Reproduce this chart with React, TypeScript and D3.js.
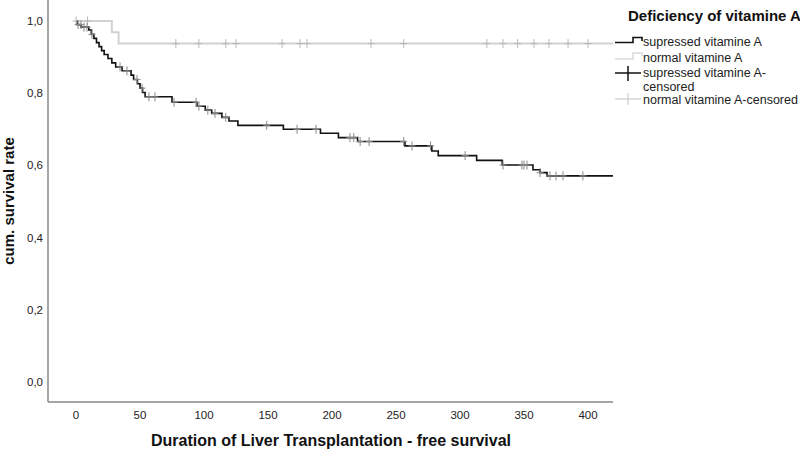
import React from "react";
import * as d3 from "d3";

const xTicks = [0, 50, 100, 150, 200, 250, 300, 350, 400];
const yTicks = [0, 0.2, 0.4, 0.6, 0.8, 1.0];

// suppressed vitamine A: step times and survival after each step
const suppTimes = [0, 1, 4, 10, 12, 14, 16, 18, 20, 22, 25, 28, 31, 36, 43, 45, 48, 50, 52, 54, 75, 94.5, 101, 106, 114, 119.5, 126.5, 162, 191, 205, 220, 257, 278, 283, 313, 333, 357, 362.5, 368];
const suppSurv = [1.0, 0.99, 0.983, 0.975, 0.963, 0.952, 0.94, 0.929, 0.918, 0.907, 0.896, 0.884, 0.873, 0.862, 0.85, 0.838, 0.826, 0.814, 0.802, 0.79, 0.775, 0.764, 0.753, 0.744, 0.733, 0.723, 0.711, 0.7, 0.689, 0.677, 0.666, 0.654, 0.64, 0.627, 0.614, 0.601, 0.588, 0.58, 0.571];
const suppCensored = [1.6, 3.9, 6.3, 8.6, 12.5, 34.4, 39.8, 47.7, 51.6, 57, 61.7, 76.6, 93.8, 96, 103, 108.6, 117, 149, 172.7, 187.5, 214, 217, 222, 229, 256, 262.5, 277, 304, 333.6, 348.4, 350, 352.3, 362.5, 370.3, 375, 380.5, 396];

// normal vitamine A
const normTimes = [0, 28, 33.3];
const normSurv = [1.0, 0.96875, 0.9375];
const normCensored = [0, 9, 78, 96, 117, 125, 161, 175, 180.5, 230.5, 256, 321, 333.6, 345, 357.8, 369.5, 384.4, 400];

const endTime = 419.5;

const W = 800, H = 452;
const FONT = "'Liberation Sans', Arial, sans-serif";

function survAt(times: number[], surv: number[], t: number) {
  let s = surv[0];
  for (let i = 0; i < times.length; i++) if (times[i] <= t) s = surv[i];
  return s;
}

export default function App() {
  const x = d3.scaleLinear().domain([0, 400]).range([76, 588]);
  const y = d3.scaleLinear().domain([0, 1]).range([382, 21]);
  const x0 = 48, x1 = 613, yAxisY = 402;

  const line = d3.line<[number, number]>().x(d => x(d[0])).y(d => y(d[1])).curve(d3.curveStepAfter);
  const suppPts: [number, number][] = suppTimes.map((t, i) => [t, suppSurv[i]] as [number, number]);
  suppPts.push([endTime, suppSurv[suppSurv.length - 1]]);
  const normPts: [number, number][] = normTimes.map((t, i) => [t, normSurv[i]] as [number, number]);
  normPts.push([endTime, normSurv[normSurv.length - 1]]);

  const cross = (cx: number, cy: number, color: string, key: string) => (
    <g key={key} stroke={color} strokeWidth={1}>
      <line x1={cx} x2={cx} y1={cy - 4.5} y2={cy + 4.5} />
      <line x1={cx - 3.5} x2={cx + 3.5} y1={cy} y2={cy} />
    </g>
  );

  const fmt = (v: number) => v.toFixed(1).replace(".", ",");

  return (
    <svg width={W} height={H} style={{ position: "absolute", left: 0, top: 0, background: "#fff" }} fontFamily={FONT}>
      {/* axes */}
      <line x1={x0} x2={x0} y1={0} y2={yAxisY} stroke="#888" strokeWidth={1.5} />
      <line x1={x0} x2={x1} y1={yAxisY} y2={yAxisY} stroke="#888" strokeWidth={1.5} />
      {yTicks.map(v => (
        <text key={"y" + v} x={43} y={y(v)} dy="0.35em" textAnchor="end" fontSize={11.5} fill="#222">{fmt(v)}</text>
      ))}
      {xTicks.map(v => (
        <text key={"x" + v} x={x(v)} y={415} dy="0.35em" textAnchor="middle" fontSize={11.5} fill="#222">{v}</text>
      ))}
      <text x={331} y={446} textAnchor="middle" fontSize={16} fontWeight="bold" fill="#111">Duration of Liver Transplantation - free survival</text>
      <text transform={`translate(14,${201}) rotate(-90)`} textAnchor="middle" fontSize={15} fontWeight="bold" fill="#111">cum. survival rate</text>

      {/* curves */}
      <path d={line(normPts) || ""} fill="none" stroke="#d2d2d2" strokeWidth={2} />
      <path d={line(suppPts) || ""} fill="none" stroke="#111" strokeWidth={1.6} />
      {normCensored.map((t, i) => cross(x(t), y(survAt(normTimes, normSurv, t)), "#b8b8b8", "n" + i))}
      {suppCensored.map((t, i) => cross(x(t), y(survAt(suppTimes, suppSurv, t)), "#8a8a8a", "s" + i))}

      {/* legend */}
      <text x={628} y={21} fontSize={15} fontWeight="bold" fill="#111">Deficiency of vitamine A</text>
      <path d="M615,42.5 H633 V37.5 H642 V41" fill="none" stroke="#111" strokeWidth={1.6} />
      <text x={643} y={46} fontSize={12.5} fill="#222">supressed vitamine A</text>
      <path d="M615,59 H633 V53 H642 V56" fill="none" stroke="#d9d9d9" strokeWidth={1.5} />
      <text x={643} y={61.5} fontSize={12.5} fill="#222">normal vitamine A</text>
      <line x1={615} x2={641} y1={73} y2={73} stroke="#111" strokeWidth={1.5} />
      <line x1={628} x2={628} y1={66} y2={81} stroke="#111" strokeWidth={1.5} />
      <text x={643} y={77} fontSize={12.5} fill="#222">supressed vitamine A-</text>
      <text x={643} y={90.5} fontSize={12.5} fill="#222">censored</text>
      <line x1={615} x2={641} y1={99} y2={99} stroke="#ccc" strokeWidth={1.2} />
      <line x1={628} x2={628} y1={93} y2={105} stroke="#ccc" strokeWidth={1.2} />
      <text x={643} y={103.5} fontSize={12.5} fill="#222">normal vitamine A-censored</text>
    </svg>
  );
}
